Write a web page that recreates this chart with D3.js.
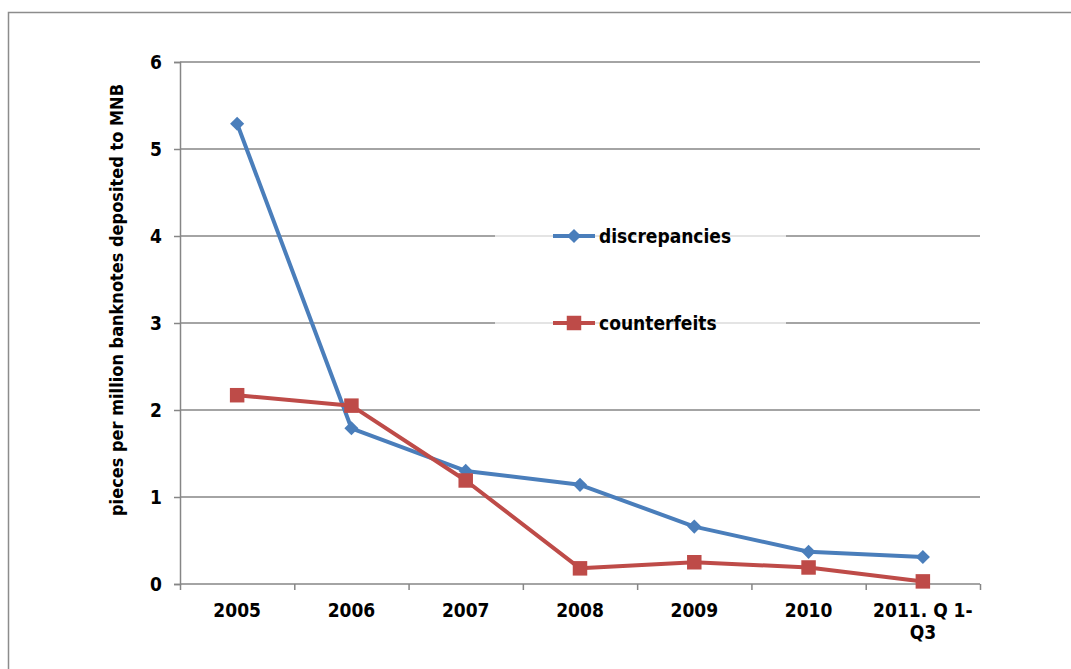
<!DOCTYPE html>
<html>
<head>
<meta charset="utf-8">
<script src="https://cdn.jsdelivr.net/npm/d3@7"></script>
<style>
  body { margin: 0; background: #fff; }
  text { font-family: "DejaVu Sans Condensed", "DejaVu Sans", sans-serif; font-stretch: condensed; font-weight: bold; fill: #000; }
</style>
</head>
<body>
<div id="chart-area"></div>
<script>
// data
var categories = ["2005", "2006", "2007", "2008", "2009", "2010", "2011. Q 1-\nQ3"];
var discrepancies = [5.29, 1.79, 1.30, 1.14, 0.66, 0.37, 0.31];
var counterfeits = [2.17, 2.05, 1.19, 0.18, 0.25, 0.19, 0.03];
var yTicks = [0, 1, 2, 3, 4, 5, 6];
var seriesNames = ["discrepancies", "counterfeits"];

var width = 1071;
var height = 669;
var plot = { left: 180, right: 980, top: 62, bottom: 584 };

var svg = d3.select("#chart-area").append("svg")
    .attr("width", width)
    .attr("height", height);

// outer chart border (runs off the picture right and bottom)
svg.append("rect")
    .attr("x", 8.5)
    .attr("y", 12.5)
    .attr("width", 1100)
    .attr("height", 700)
    .attr("fill", "none")
    .attr("stroke", "#8c8c8c")
    .attr("stroke-width", 1.5);

var x = d3.scaleBand()
    .domain(categories)
    .range([plot.left, plot.right]);

var xEdge = d3.scaleLinear()
    .domain([0, categories.length])
    .range([plot.left, plot.right]);

var y = d3.scaleLinear()
    .domain([0, 6])
    .range([plot.bottom, plot.top]);

var gridColor = "#868686";

// gridlines
svg.append("g")
    .attr("class", "grid")
    .selectAll("line")
    .data(yTicks.filter((d) => d > 0))
    .enter()
    .append("line")
    .attr("x1", plot.left)
    .attr("x2", plot.right)
    .attr("y1", (d) => y(d))
    .attr("y2", (d) => y(d))
    .attr("stroke", gridColor)
    .attr("stroke-width", 1.5);

// left axis
var leftAxis = d3.axisLeft(y)
    .tickValues(yTicks)
    .tickSize(6)
    .tickPadding(12)
    .tickFormat(d3.format("d"));
var gy = svg.append("g")
    .attr("transform", "translate(" + plot.left + ",0)")
    .call(leftAxis);
gy.select(".domain").attr("stroke", gridColor).attr("stroke-width", 1.5);
gy.selectAll(".tick line").attr("stroke", gridColor).attr("stroke-width", 1.5);
gy.selectAll(".tick text").attr("font-size", "19px");

// bottom axis: tick marks on band edges
var edgeAxis = d3.axisBottom(xEdge)
    .tickValues(d3.range(categories.length + 1))
    .tickSize(6)
    .tickFormat("");
var gxe = svg.append("g")
    .attr("transform", "translate(0," + plot.bottom + ")")
    .call(edgeAxis);
gxe.select(".domain").attr("stroke", gridColor).attr("stroke-width", 1.5).attr("d", "M" + plot.left + ",0H" + plot.right);
gxe.selectAll(".tick line").attr("stroke", gridColor).attr("stroke-width", 1.5);

// bottom axis: labels at band centres
var bottomAxis = d3.axisBottom(x).tickSize(0).tickPadding(20);
var gx = svg.append("g")
    .attr("transform", "translate(0," + plot.bottom + ")")
    .call(bottomAxis);
gx.select(".domain").remove();
gx.selectAll(".tick text")
    .attr("font-size", "19px")
    .text(null)
    .each(function (d) {
        var t = d3.select(this);
        d.split("\n").forEach((line, i) => {
            t.append("tspan")
                .attr("x", 0)
                .attr("dy", i === 0 ? "0.71em" : "22px")
                .text(line);
        });
    });

// y label
svg.append("text")
    .attr("transform", "translate(123,300) rotate(-90)")
    .attr("text-anchor", "middle")
    .attr("font-size", "18px")
    .text("pieces per million banknotes deposited to MNB");

var colors = { discrepancies: "#4a7ebb", counterfeits: "#be4b48" };
var values = { discrepancies: discrepancies, counterfeits: counterfeits };

var line = d3.line()
    .x((d, i) => x(categories[i]) + x.bandwidth() / 2)
    .y((d) => y(d));

var diamond = d3.symbol().type(d3.symbolSquare).size(100);
var square = d3.symbol().type(d3.symbolSquare).size(210);

function drawMarker(g, name, cx, cy) {
    if (name === "discrepancies") {
        g.append("path")
            .attr("d", diamond())
            .attr("transform", "translate(" + cx + "," + cy + ") rotate(45)")
            .attr("fill", colors[name]);
    } else {
        g.append("path")
            .attr("d", square())
            .attr("transform", "translate(" + cx + "," + cy + ")")
            .attr("fill", colors[name]);
    }
}

seriesNames.forEach((name) => {
    var g = svg.append("g");
    g.append("path")
        .datum(values[name])
        .attr("d", line)
        .attr("fill", "none")
        .attr("stroke", colors[name])
        .attr("stroke-width", 4)
        .attr("stroke-linejoin", "round");
    values[name].forEach((v, i) => {
        drawMarker(g, name, x(categories[i]) + x.bandwidth() / 2, y(v));
    });
});

// legend inside the plot, semi-opaque white box
var legend = svg.append("g");
legend.append("rect")
    .attr("x", 495)
    .attr("y", 205)
    .attr("width", 291)
    .attr("height", 145)
    .attr("fill", "#fff")
    .attr("opacity", 0.7);

var legendY = d3.scalePoint().domain(seriesNames).range([y(4), y(3)]);
seriesNames.forEach((name) => {
    var ly = legendY(name);
    legend.append("line")
        .attr("x1", 553)
        .attr("x2", 595)
        .attr("y1", ly)
        .attr("y2", ly)
        .attr("stroke", colors[name])
        .attr("stroke-width", 4);
    drawMarker(legend, name, 574, ly);
    legend.append("text")
        .attr("x", 599)
        .attr("y", ly)
        .attr("dy", "0.35em")
        .attr("font-size", "19px")
        .attr("font-weight", 600)
        .text(name);
});
</script>
</body>
</html>
